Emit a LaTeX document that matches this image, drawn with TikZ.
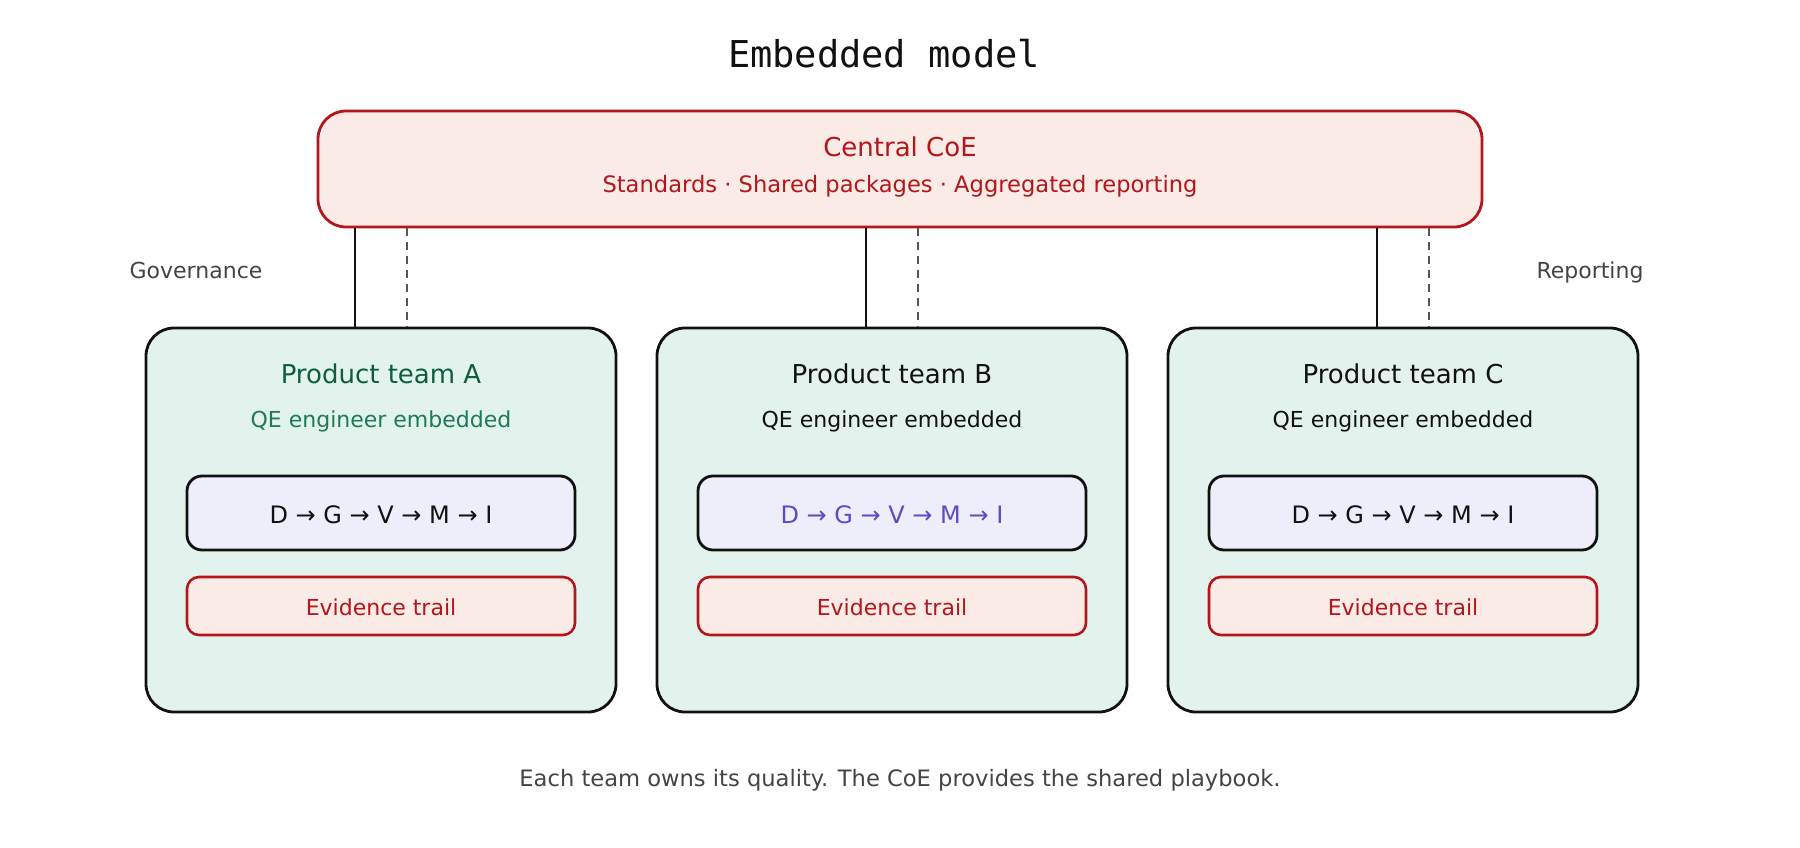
\documentclass[tikz,border=0pt]{standalone}
\usepackage{fontspec}
\setmainfont{DejaVu Sans}
\newfontfamily\titlefont{DejaVu Sans Mono}
\definecolor{coered}{HTML}{B3161B}
\definecolor{coefill}{HTML}{FBEBE7}
\definecolor{teamfill}{HTML}{E1F3EC}
\definecolor{flowfill}{HTML}{EEEEFB}
\definecolor{greentitle}{HTML}{0E5E3E}
\definecolor{greensub}{HTML}{1F7A55}
\definecolor{flowpurple}{HTML}{5A4CC2}
\definecolor{inkblack}{HTML}{111111}
\definecolor{greytext}{HTML}{444444}
\definecolor{dashgrey}{HTML}{555555}
\tikzset{
  coebox/.style={draw=coered, fill=coefill, line width=2.8pt, rounded corners=28pt, minimum width=1164pt, minimum height=116pt, inner sep=0pt},
  teambox/.style={draw=inkblack, fill=teamfill, line width=2.8pt, rounded corners=28pt, minimum width=470pt, minimum height=384pt, inner sep=0pt},
  flowbox/.style={draw=inkblack, fill=flowfill, line width=2.8pt, rounded corners=15pt, minimum width=388pt, minimum height=74pt, inner sep=0pt},
  evbox/.style={draw=coered, fill=coefill, line width=2.6pt, rounded corners=12pt, minimum width=388pt, minimum height=58pt, inner sep=0pt},
  txt/.style={anchor=base, inner sep=0pt},
  bigtxt/.style={txt, font=\fontsize{26}{30}\selectfont},
  smalltxt/.style={txt, font=\fontsize{22}{26}\selectfont},
  widetxt/.style={txt, font=\fontsize{22.6}{26}\selectfont},
  flowtxt/.style={txt, font=\fontsize{24}{28}\selectfont},
  govline/.style={draw=inkblack, line width=2.8pt},
  repline/.style={draw=dashgrey, line width=1.8pt, dash pattern=on 8pt off 6pt},
}
\begin{document}
\begin{tikzpicture}[x=1pt,y=-1pt]
\useasboundingbox (0,0) rectangle (1800,848);

\node[txt, font=\titlefont\fontsize{37}{40}\selectfont, text=inkblack] (title) at (884,68) {Embedded model};

\node[coebox] (coe) at (900,169) {};
\node[bigtxt, text=coered] (coetitle) at (900,157) {Central CoE};
\node[widetxt, text=coered] (coesub) at (900,193) {Standards · Shared packages · Aggregated reporting};

\node[smalltxt, text=greytext] (gov) at (196,278) {Governance};
\node[smalltxt, text=greytext] (rep) at (1590,278) {Reporting};

% Teams
\foreach \n/\cx in {A/381, B/892, C/1403} {
  \node[teambox] (team\n) at (\cx,520) {};
  \node[flowbox] (flow\n) at (\cx,513) {};
  \node[evbox] (ev\n) at (\cx,606) {};
  \node[smalltxt, text=coered] (evt\n) at (\cx,615) {Evidence trail};
  \coordinate (g\n) at (\cx-26,0);
  \coordinate (r\n) at (\cx+26,0);
  \draw[govline] (coe.south -| g\n) -- (team\n.north -| g\n);
  \draw[repline] (coe.south -| r\n) -- (team\n.north -| r\n);
}

\node[bigtxt, text=greentitle] (ttA) at (381,383) {Product team A};
\node[smalltxt, text=greensub] (tsA) at (381,427) {QE engineer embedded};
\node[flowtxt, text=inkblack] (tfA) at (381,523) {D → G → V → M → I};

\node[bigtxt, text=inkblack] (ttB) at (892,383) {Product team B};
\node[smalltxt, text=inkblack] (tsB) at (892,427) {QE engineer embedded};
\node[flowtxt, text=flowpurple] (tfB) at (892,523) {D → G → V → M → I};

\node[bigtxt, text=inkblack] (ttC) at (1403,383) {Product team C};
\node[smalltxt, text=inkblack] (tsC) at (1403,427) {QE engineer embedded};
\node[flowtxt, text=inkblack] (tfC) at (1403,523) {D → G → V → M → I};

\node[widetxt, text=greytext] (caption) at (900,786) {Each team owns its quality. The CoE provides the shared playbook.};
\end{tikzpicture}
\end{document}
